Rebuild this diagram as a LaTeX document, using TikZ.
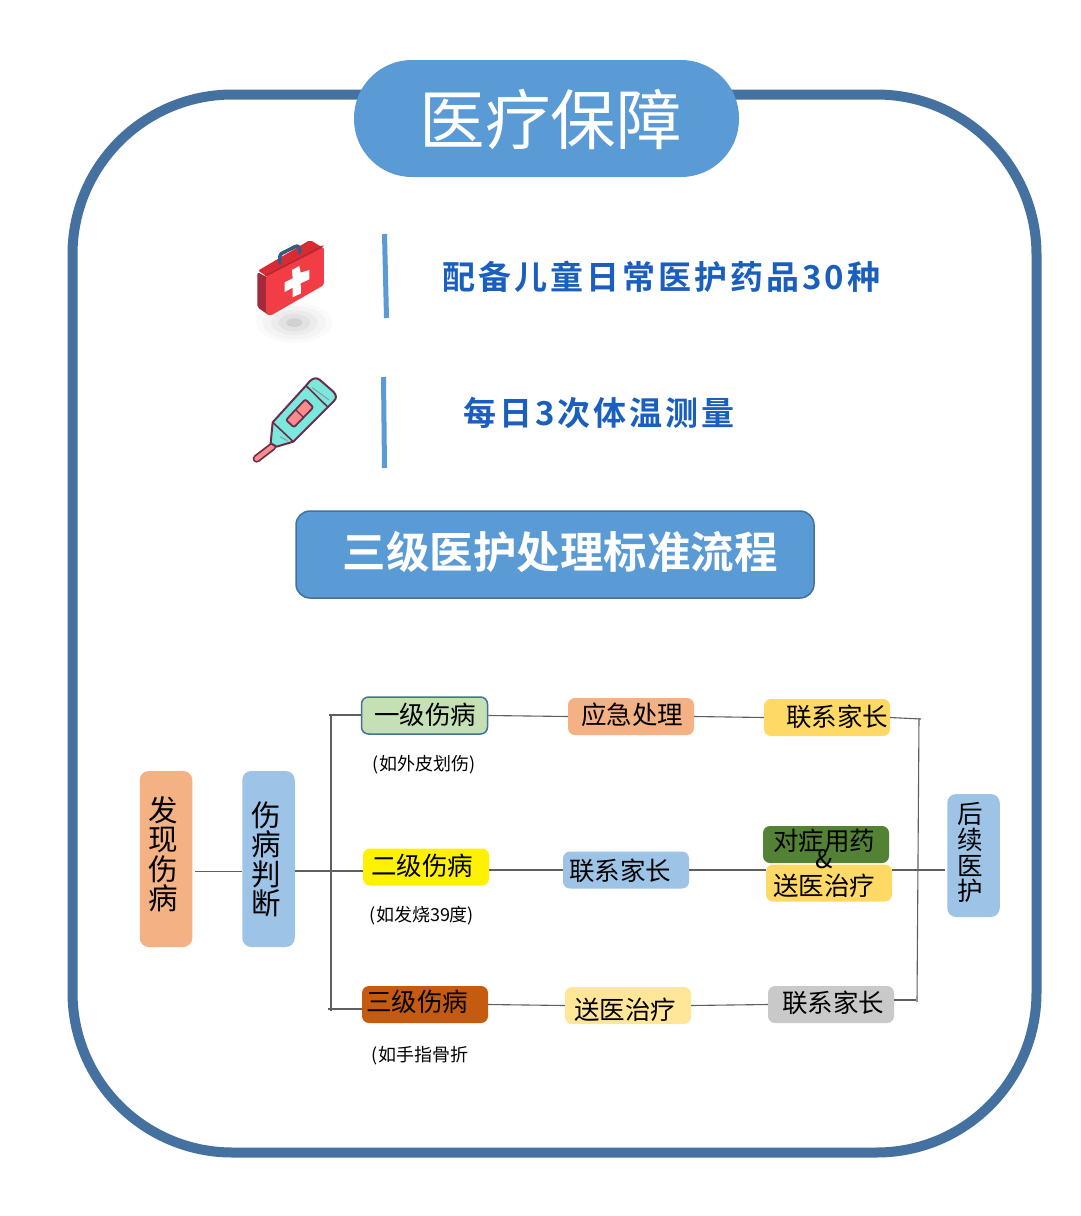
\documentclass[tikz,border=0pt]{standalone}
\usepackage{fontspec}
\setmainfont{Noto Sans CJK SC}
\newfontfamily\boldcjk[LetterSpace=9]{Noto Sans CJK SC Bold}
\newfontfamily\boldtight{Noto Sans CJK SC Bold}
\definecolor{frameblue}{HTML}{44719F}
\definecolor{midblue}{HTML}{5B9BD5}
\definecolor{edgeblue}{HTML}{41719C}
\definecolor{lightblue}{HTML}{9DC3E6}
\definecolor{txtblue}{HTML}{1B5FBE}
\definecolor{orangebox}{HTML}{F4B183}
\definecolor{goldbox}{HTML}{FFD966}
\definecolor{palegold}{HTML}{FFE699}
\definecolor{greenbox}{HTML}{C5E0B4}
\definecolor{darkgreen}{HTML}{548235}
\definecolor{rust}{HTML}{C55A11}
\definecolor{greybox}{HTML}{C9C9C9}
\definecolor{connline}{HTML}{5F5F5F}
\definecolor{plum}{HTML}{6B2D4A}
\definecolor{kitfront}{HTML}{F23D47}
\definecolor{kittop}{HTML}{D92B33}
\definecolor{kitside}{HTML}{A32A3A}
\definecolor{kithandle}{HTML}{355C80}
\definecolor{thermbody}{HTML}{7AE8DC}
\definecolor{thermpink}{HTML}{F98B8B}
\newcommand{\bt}[3]{\smash{\raisebox{\dimexpr-#2pt-.36em\relax}{\makebox[0pt]{\hspace*{\dimexpr #1pt*2\relax}#3}}}}
\newcommand{\vt}[7]{\smash{\makebox[0pt]{\hspace*{\dimexpr #1pt*2\relax}\raisebox{\dimexpr-#2pt\relax}{$\vcenter{\baselineskip=#3pt\lineskiplimit=-20pt\hbox{#4}\hbox{#5}\hbox{#6}\hbox{#7}}$}}}}
\tikzset{
  tbox/.style={rounded corners=7pt,inner sep=0pt,minimum width=126pt,minimum height=37pt,
    font=\fontsize{25.5}{29.5}\selectfont,text=black},
  vbox/.style={tbox,rounded corners=9pt,minimum width=52.5pt},
  sublabel/.style={inner sep=0pt,font=\fontsize{18}{20}\selectfont,text=black},
  conn/.style={draw=connline,line width=1.1pt},
  sidebar/.style={draw=midblue,line width=5pt},
  bluehead/.style={inner sep=0pt,text=txtblue,font=\fontsize{33}{36}\selectfont\boldcjk},
}
\begin{document}
\begin{tikzpicture}[x=1pt,y=-1pt]
\useasboundingbox (0,0) rectangle (1080,1216);
\fill[white] (0,0) rectangle (1080,1216);
% frame
\draw[frameblue,line width=10pt,rounded corners=160pt] (72.5,94.5) rectangle (1036.5,1152.5);
\node[fill=midblue,rounded corners=58pt,minimum width=385pt,minimum height=117pt,inner sep=0pt,text=white,
  font=\fontsize{65.5}{70}\selectfont] (title) at (546.5,118.5) {\bt{4}{2.5}{医疗保障}};
% first row
\draw[sidebar] (384.5,234) -- (386.5,318);
\node[bluehead] (line1) at (661.5,277) {配备儿童日常医护药品30种};
\draw[sidebar] (383.5,377) -- (384.5,468);
\node[bluehead] (line2) at (599,413) {每日3次体温测量};
% medical kit
\begin{scope}[shift={(230,220)},x=0.3333pt,y=-0.3333pt]
  \foreach \rx/\ry/\op in {115/60/0.025,95/50/0.03,70/38/0.04,48/26/0.06,24/13/0.10}
    \fill[black!80!magenta,opacity=\op] (193,308) ellipse [x radius=\rx,y radius=\ry];
  \fill[kittop,rounded corners=2pt] (84,152) -- (240,60) -- (282,85) -- (120,175) -- cycle;
  \fill[kitside,rounded corners=2pt] (82,157) -- (120,175) -- (120,288) -- (82,262) -- cycle;
  \fill[kitfront,rounded corners=2pt] (108,170) -- (282,82) -- (282,195) -- (120,288) -- (108,280) -- cycle;
  \draw[kitside,line width=1pt] (106,168) -- (280,77);
  \draw[line width=3.5pt,draw=kithandle,line cap=round,line join=round] (150,130) -- (150,108) .. controls (152,100) and (155,100) .. (160,98) -- (195,80) .. controls (203,76) and (209,80) .. (209,88) -- (209,98);
  \fill[white] (186,150) -- (208,138) -- (212,158) -- (238,150) -- (238,178) -- (212,190) -- (213,220) -- (188,232) -- (188,203) -- (164,216) -- (164,187) -- (188,175) -- cycle;
\end{scope}
% thermometer
\begin{scope}[shift={(230,220)},x=0.3333pt,y=-0.3333pt]
  \draw[plum,line width=8pt,line cap=round] (127,680) -- (80,716);
  \draw[thermpink,line width=4.5pt,line cap=round] (127,680) -- (80,716);
  \fill[fill=thermbody,draw=plum,line width=2pt,line join=round]
    (128,607) -- (228,497) -- (240,483) .. controls (250,473) and (262,473) .. (270,480) -- (310,515) .. controls (320,525) and (320,535) .. (312,543) -- (190,665) -- (140,680) -- (122,670) -- cycle;
  \draw[plum,line width=1.6pt] (228,497) -- (292,560) (128,607) -- (190,665);
  \draw[plum!60!white,line width=0.8pt] (247,503) -- (297,540) (150,650) -- (172,662);
  \fill[fill=thermpink,draw=plum,line width=1.8pt,rounded corners=2pt]
    (168,600) -- (226,538) -- (250,562) -- (192,622) -- cycle;
  \draw[plum,line width=1.4pt] (197,569) -- (221,593);
\end{scope}
% heading
\node[fill=midblue,draw=edgeblue,line width=1.5pt,rounded corners=14pt,minimum width=518pt,minimum height=87pt,inner sep=0pt,text=white,
  font=\fontsize{43.5}{48}\selectfont\boldtight] (head) at (555,554.5) {\bt{5}{-1.5}{三级医护处理标准流程}};
% flow boxes
\node[vbox,fill=orangebox,minimum height=176pt] (found) at (166,859) {\fontsize{29.5}{30}\selectfont\vt{-3}{1.5}{29.5}{发}{现}{伤}{病}};
\node[vbox,fill=lightblue,minimum height=176pt] (judge) at (268.5,859) {\fontsize{29.5}{30}\selectfont\vt{-2.5}{6.5}{29.5}{伤}{病}{判}{断}};
\node[tbox,fill=greenbox,draw=edgeblue,line width=1.5pt] (lv1) at (424.5,715.5) {\bt{0.5}{-0.5}{一级伤病}};
\node[tbox,fill=yellow] (lv2) at (426,867) {\bt{-4}{-1}{二级伤病}};
\node[tbox,fill=rust] (lv3) at (425,1004.5) {\bt{-8}{-2.5}{三级伤病}};
\node[tbox,fill=orangebox] (a1) at (631,716.5) {\bt{1}{-1.5}{应急处理}};
\node[tbox,fill=lightblue] (a2) at (626,870) {\bt{-6}{1}{联系家长}};
\node[tbox,fill=palegold] (a3) at (628,1005.5) {\bt{-3}{4.5}{送医治疗}};
\node[tbox,fill=goldbox] (b1) at (827,717.5) {\bt{10}{-0.5}{联系家长}};
\node[tbox,fill=darkgreen] (b2a) at (826,844.5) {\bt{-2}{-3.5}{对症用药}};
\node[tbox,fill=goldbox] (b2b) at (829,883) {\bt{-5}{3}{送医治疗}};
\node[tbox,fill=greybox] (b3) at (831,1004.5) {\bt{2}{-1.5}{联系家长}};
\node[inner sep=0pt,font=\fontsize{25.5}{29.5}\selectfont,text=black] (amp) at (824,859) {\&};
\node[vbox,fill=lightblue,minimum height=123pt] (after) at (973.5,855.5) {\fontsize{25.5}{26}\selectfont\vt{-3}{3.5}{25.7}{后}{续}{医}{护}};
% sublabels
\node[sublabel] (s1) at (424,765) {(如外皮划伤)};
\node[sublabel] (s2) at (422,916) {(如发烧39度)};
\node[sublabel] (s3) at (420,1056) {(如手指骨折};
% junctions
\coordinate (jl) at (331,871);
\coordinate (jlt) at (329,715);
\coordinate (jlb) at (328,1009);
\coordinate (jvt) at (331,716);
\coordinate (jvb) at (331,1011);
\coordinate (jrt) at (921,719);
\coordinate (jrb) at (916,1000);
\coordinate (jvrt) at (919,718);
\coordinate (jvrb) at (917,1002);
\coordinate (fs) at (195,871.5);
% connectors
\draw[conn] (fs) -- (judge.west |- fs);
\draw[conn] (judge.east |- jl) -- (lv2.west |- jl);
\draw[conn] (jvt) -- (jvb);
\draw[conn] (jlt) -- (lv1.west |- jlt);
\draw[conn] (jlb) -- (lv3.west |- jlb);
\draw[conn] (lv1.east) -- (a1.west);
\draw[conn] (lv2.east |- a2.west) -- (a2.west);
\draw[conn] (lv3.east) -- (a3.west);
\draw[conn] (a1.east) -- (b1.west);
\draw[conn] (a2.east) -- (b2b.west |- a2.east);
\draw[conn] (a3.east) -- (b3.west);
\draw[conn] (b1.east) -- (jrt);
\draw[conn] (b3.east |- jrb) -- (jrb);
\draw[conn] (jvrt) -- (jvrb);
\draw[conn] (b2b.east |- a2.east) -- (945,870);
\end{tikzpicture}
\end{document}
